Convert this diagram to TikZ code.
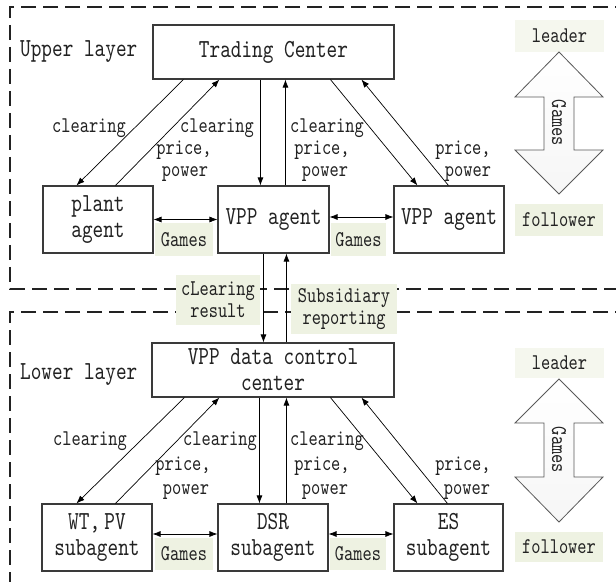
\documentclass[tikz,border=0pt]{standalone}
\usepackage{fontspec}
\usetikzlibrary{arrows.meta,calc}
\newfontfamily\lmm{lmmono10-regular}[Extension=.otf,FakeStretch=0.78]
\newcommand{\bigtxt}{\lmm\fontsize{26}{26}\selectfont}
\newcommand{\smalltxt}{\lmm\fontsize{22.5}{22}\selectfont}
\definecolor{ink}{HTML}{222222}
\definecolor{edge}{HTML}{3A3A3A}
\definecolor{tagbg}{RGB}{238,242,226}
\tikzset{
  box/.style={draw=edge,line width=1.1pt,fill=white,inner sep=0pt,align=center,
    font=\bigtxt,text=ink},
  lbl/.style={inner sep=0pt,anchor=base,font=\smalltxt,text=ink},
  tag/.style={fill=tagbg,inner sep=0pt,align=center,font=\smalltxt,text=ink},
  link/.style={draw=black,line width=0.7pt,-{Latex[length=8pt,width=6pt]}},
  duplex/.style={draw=black,line width=0.7pt,{Latex[length=8pt,width=6pt]}-{Latex[length=8pt,width=6pt]}},
  layer/.style={draw=ink,line width=1.8pt,dash pattern=on 15pt off 7pt},
  bigarrow/.style={draw=gray!70!black,line width=0.8pt,top color=white,bottom color=gray!7},
}
\begin{document}
\begin{tikzpicture}[x=1pt,y=-1pt]
\useasboundingbox (0,0) rectangle (616,588);

% layer frames
\draw[layer] (630,7) -- (10,7) -- (10,289) -- (630,289);
\draw[layer] (630,312) -- (10,312) -- (10,582);

% upper layer
\node[anchor=base west,font=\bigtxt,text=ink,inner sep=0pt] (uplab) at (20,57) {Upper layer};
\node[box,minimum width=241,minimum height=54] (tc) at (273.5,52) {Trading Center};
\node[box,minimum width=110,minimum height=67] (pa) at (98,219.5) {plant\\agent};
\node[box,minimum width=111,minimum height=67] (va) at (273.5,219.5) {VPP agent};
\node[box,minimum width=110,minimum height=67] (vr) at (449,219.5) {VPP agent};

\draw[link] ($(tc.south west)+(31,0)$) -- ($(pa.north west)+(34,0)$);
\draw[link] ($(pa.north west)+(73,0)$) -- ($(tc.south west)+(67,0)$);
\draw[link] ($(tc.south west)+(108,0)$) -- ($(va.north west)+(43,0)$);
\draw[link] ($(va.north west)+(68,0)$) -- ($(tc.south west)+(133,0)$);
\draw[link] ($(tc.south west)+(178,0)$) -- ($(vr.north west)+(24,0)$);
\draw[link] ($(vr.north west)+(55,0)$) -- ($(tc.south west)+(209,0)$);

\node[lbl] (u1) at (89,133) {clearing};
\node[lbl] (u2) at (217,133) {clearing};
\node[lbl] (u3) at (184,155) {price,};
\node[lbl] (u4) at (185,177) {power};
\node[lbl] (u5) at (327,133) {clearing};
\node[lbl] (u6) at (322,155) {price,};
\node[lbl] (u7) at (325,177) {power};
\node[lbl] (u8) at (463,155) {price,};
\node[lbl] (u9) at (468,177) {power};

\draw[duplex] (pa.east) -- (va.west);
\draw[duplex] ($(va.east)+(0,-2.5)$) -- ($(vr.west)+(0,-2.5)$);
\node[tag,minimum width=58,minimum height=33] (ug1) at (184,239.5) {Games};
\node[tag,minimum width=55,minimum height=33] (ug2) at (358.5,239.5) {Games};

% leader / follower game, upper layer
\node[tag,minimum width=89,minimum height=32,fill=tagbg!60] (ulead) at (559.5,36) {leader};
\node[tag,minimum width=88,minimum height=32] (ufol) at (559,220) {follower};
\draw[bigarrow] (559,52) -- (603,97) -- (574,97) -- (574,150) -- (603,150) -- (559,194)
  -- (515,150) -- (544,150) -- (544,97) -- (515,97) -- cycle;
\node[font=\smalltxt,text=ink,rotate=-90,inner sep=0pt] (ugame) at (559,123) {Games};

% links between the layers
\node[box,minimum width=242,minimum height=54] (dc) at (273,370) {VPP data control\\center};
\draw[link] ($(va.south west)+(46,0)$) -- ($(dc.north west)+(112,0)$);
\draw[link] ($(dc.north west)+(135,0)$) -- ($(va.south west)+(69,0)$);
\node[tag,minimum width=84,minimum height=50] (clr) at (218,300) {cLearing\\result};
\node[tag,minimum width=106,minimum height=50] (sub) at (344,309) {Subsidiary\\reporting};

% lower layer
\node[anchor=base west,font=\bigtxt,text=ink,inner sep=0pt] (lowlab) at (20,379) {Lower layer};
\node[box,minimum width=110,minimum height=67] (wt) at (97,537.5) {WT,\,PV\\subagent};
\node[box,minimum width=110,minimum height=67] (dsr) at (273,537.5) {DSR\\subagent};
\node[box,minimum width=109,minimum height=67] (es) at (448.5,537.5) {ES\\subagent};

\draw[link] ($(dc.south west)+(33,0)$) -- ($(wt.north west)+(35,0)$);
\draw[link] ($(wt.north west)+(74,0)$) -- ($(dc.south west)+(68,0)$);
\draw[link] ($(dc.south west)+(108,0)$) -- ($(dsr.north west)+(42,0)$);
\draw[link] ($(dsr.north west)+(69,0)$) -- ($(dc.south west)+(135,0)$);
\draw[link] ($(dc.south west)+(179,0)$) -- ($(es.north west)+(24,0)$);
\draw[link] ($(es.north west)+(54,0)$) -- ($(dc.south west)+(210,0)$);

\node[lbl] (l1) at (90,445) {clearing};
\node[lbl] (l2) at (220,445) {clearing};
\node[lbl] (l3) at (183,470) {price,};
\node[lbl] (l4) at (186,494) {power};
\node[lbl] (l5) at (327,445) {clearing};
\node[lbl] (l6) at (322,470) {price,};
\node[lbl] (l7) at (325,494) {power};
\node[lbl] (l8) at (463,470) {price,};
\node[lbl] (l9) at (467,494) {power};

\draw[duplex] ($(wt.east)+(0,-3.5)$) -- ($(dsr.west)+(0,-3.5)$);
\draw[duplex] ($(dsr.east)+(0,-3.5)$) -- ($(es.west)+(0,-3.5)$);
\node[tag,minimum width=58,minimum height=32] (lg1) at (184,554) {Games};
\node[tag,minimum width=56,minimum height=32] (lg2) at (358,554) {Games};

% leader / follower game, lower layer
\node[tag,minimum width=89,minimum height=30,fill=tagbg!60] (llead) at (559.5,363) {leader};
\node[tag,minimum width=88,minimum height=30] (lfol) at (559,547) {follower};
\draw[bigarrow] (559,379) -- (603,423) -- (574,423) -- (574,477) -- (603,477) -- (559,522)
  -- (515,477) -- (544,477) -- (544,423) -- (515,423) -- cycle;
\node[font=\smalltxt,text=ink,rotate=-90,inner sep=0pt] (lgame) at (559,450) {Games};
\end{tikzpicture}
\end{document}
